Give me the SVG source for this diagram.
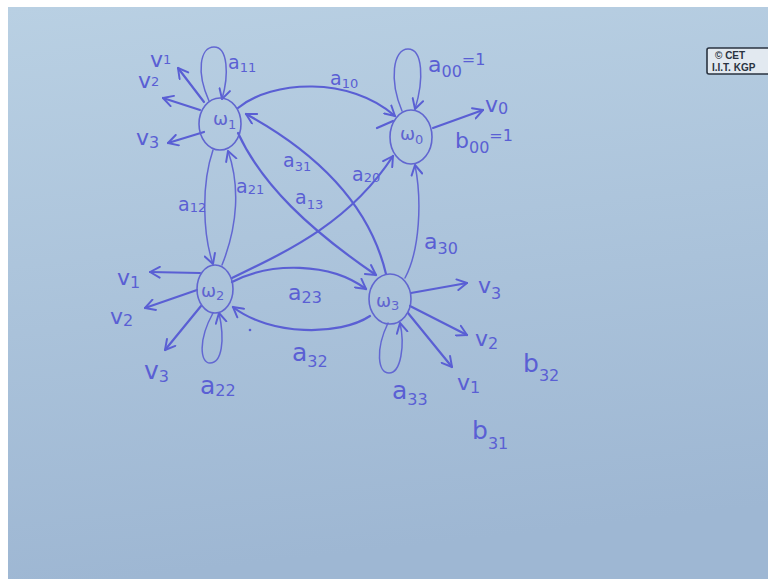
<svg xmlns="http://www.w3.org/2000/svg" width="768" height="579" viewBox="0 0 768 579">
<defs>
<linearGradient id="bg" x1="0" y1="0" x2="0.15" y2="1">
<stop offset="0" stop-color="#b9d0e3"/>
<stop offset="1" stop-color="#9eb7d3"/>
</linearGradient>
<marker id="ah" viewBox="0 0 12 12" refX="10" refY="6" markerWidth="13" markerHeight="13" markerUnits="userSpaceOnUse" orient="auto">
<path d="M1,1 L10,6 L1,11" fill="none" stroke="#5a5fd4" stroke-width="1.8" stroke-linecap="round" stroke-linejoin="round"/>
</marker>
<style>
.ln{fill:none;stroke:#5a5fd4;stroke-width:2.2;stroke-linecap:round}
.th{fill:none;stroke:#6267d2;stroke-width:1.5;stroke-linecap:round}
.nd{fill:none;stroke:#6166d0;stroke-width:1.6}
.t{font-family:"DejaVu Sans",sans-serif;font-size:22px;fill:#5a5fd4}
.m{font-size:19px}
.l{font-size:25px}
.s{font-size:16px}
.ss{font-size:13px}
.nt{font-family:"DejaVu Sans",sans-serif;font-size:18px;fill:#5f64d0}
.logo{font-family:"Liberation Sans",Arial,sans-serif;font-weight:bold;font-size:10px;fill:#2a3340}
</style>
</defs>
<rect x="0" y="0" width="768" height="579" fill="#ffffff"/>
<rect x="8" y="7" width="760" height="572" fill="url(#bg)"/>

<g id="logo">
<rect x="707" y="48" width="68" height="26" rx="2" fill="#e2e9f0" stroke="#2a3340" stroke-width="1.6"/>
<text class="logo" x="715" y="59">© CET</text>
<text class="logo" x="712" y="71">I.I.T. KGP</text>
</g>

<g id="connectors">
<path id="e-a11" class="th" d="M209,101 C196,72 200,47 214,47 C228,47 229,75 222,99" marker-end="url(#ah)"/>
<path id="e-a10" class="ln" d="M238,108 C272,80 350,76 395,116" marker-end="url(#ah)"/>
<path id="e-a10b" class="ln" d="M377,128 L393,121"/>
<path id="e-a00" class="th" d="M402,111 C389,80 393,49 408,49 C423,49 424,80 415,109" marker-end="url(#ah)"/>
<path id="e-v0" class="ln" d="M433,128 L483,110" marker-end="url(#ah)"/>
<path id="e-w1v1" class="ln" d="M204,102 L178,68" marker-end="url(#ah)"/>
<path id="e-w1v2" class="ln" d="M200,110 L163,98" marker-end="url(#ah)"/>
<path id="e-w1v3" class="ln" d="M204,132 L168,143" marker-end="url(#ah)"/>
<path id="e-a12" class="th" d="M213,150 C201,185 203,235 213,264" marker-end="url(#ah)"/>
<path id="e-a21" class="th" d="M222,265 C238,225 240,185 228,151" marker-end="url(#ah)"/>
<path id="e-a31" class="ln" d="M386,274 C372,215 330,160 246,114" marker-end="url(#ah)"/>
<path id="e-a13" class="ln" d="M238,133 C262,185 310,230 376,275" marker-end="url(#ah)"/>
<path id="e-a20" class="ln" d="M232,278 C290,250 350,222 393,156" marker-end="url(#ah)"/>
<path id="e-a30" class="th" d="M405,278 C420,250 422,200 415,165" marker-end="url(#ah)"/>
<path id="e-a23" class="ln" d="M232,282 C270,262 330,262 366,289" marker-end="url(#ah)"/>
<path id="e-a32" class="ln" d="M370,316 C340,336 270,336 233,307" marker-end="url(#ah)"/>
<path id="e-w2v1" class="ln" d="M200,273 L150,272" marker-end="url(#ah)"/>
<path id="e-w2v2" class="ln" d="M197,290 L145,308" marker-end="url(#ah)"/>
<path id="e-w2v3" class="ln" d="M201,306 L165,350" marker-end="url(#ah)"/>
<path id="e-a22" class="th" d="M213,313 C198,340 200,363 210,363 C222,363 225,340 219,313" marker-end="url(#ah)"/>
<path id="e-w3v3" class="ln" d="M411,293 L467,283" marker-end="url(#ah)"/>
<path id="e-w3v2" class="ln" d="M410,306 L467,335" marker-end="url(#ah)"/>
<path id="e-w3v1" class="ln" d="M408,313 L452,367" marker-end="url(#ah)"/>
<path id="e-a33" class="th" d="M388,323 C375,350 378,373 389,373 C401,373 405,345 400,323" marker-end="url(#ah)"/>
<circle cx="250" cy="330" r="1.3" fill="#5a5fd4"/>
</g>

<g id="node-w1">
<ellipse class="nd" cx="220" cy="124" rx="21" ry="26"/>
<text class="nt" x="213" y="125">ω<tspan class="ss" dy="4">1</tspan></text>
</g>
<g id="node-w0">
<ellipse class="nd" cx="411" cy="137" rx="21" ry="27"/>
<text class="nt" x="400" y="140">ω<tspan class="ss" dy="4">0</tspan></text>
</g>
<g id="node-w2">
<ellipse class="nd" cx="215" cy="289" rx="18" ry="24"/>
<text class="nt" x="201" y="297">ω<tspan class="ss" dy="3">2</tspan></text>
</g>
<g id="node-w3">
<ellipse class="nd" cx="390" cy="299" rx="21" ry="25"/>
<text class="nt" x="376" y="307">ω<tspan class="ss" dy="3">3</tspan></text>
</g>

<g id="labels">
<text class="t m" x="228" y="69">a<tspan class="ss" dy="3">11</tspan></text>
<text class="t m" x="330" y="85">a<tspan class="ss" dy="3">10</tspan></text>
<text class="t" x="428" y="72">a<tspan class="s" dy="5">00</tspan><tspan class="s" dy="-12">=1</tspan></text>
<text class="t" x="485" y="112">v<tspan class="s" dy="2">0</tspan></text>
<text class="t" x="455" y="148">b<tspan class="s" dy="5">00</tspan><tspan class="s" dy="-12">=1</tspan></text>
<text class="t" x="150" y="67">v<tspan class="ss" dy="-3">1</tspan></text>
<text class="t" x="138" y="88">v<tspan class="ss" dy="-2">2</tspan></text>
<text class="t" x="136" y="145">v<tspan class="s" dy="3">3</tspan></text>
<text class="t m" x="178" y="211">a<tspan class="ss" dy="1">12</tspan></text>
<text class="t m" x="236" y="193">a<tspan class="ss" dy="1">21</tspan></text>
<text class="t m" x="283" y="167">a<tspan class="ss" dy="4">31</tspan></text>
<text class="t m" x="295" y="204">a<tspan class="ss" dy="5">13</tspan></text>
<text class="t m" x="352" y="181">a<tspan class="ss" dy="1">20</tspan></text>
<text class="t" x="424" y="249">a<tspan class="s" dy="5">30</tspan></text>
<text class="t" x="288" y="300">a<tspan class="s" dy="3">23</tspan></text>
<text class="t l" x="292" y="361">a<tspan class="s" dy="6">32</tspan></text>
<text class="t" x="117" y="285">v<tspan class="s" dy="3">1</tspan></text>
<text class="t" x="110" y="324">v<tspan class="s" dy="2">2</tspan></text>
<text class="t l" x="144" y="379">v<tspan class="s" dy="3">3</tspan></text>
<text class="t l" x="200" y="394">a<tspan class="s" dy="2">22</tspan></text>
<text class="t" x="478" y="293">v<tspan class="s" dy="6">3</tspan></text>
<text class="t" x="475" y="346">v<tspan class="s" dy="3">2</tspan></text>
<text class="t" x="457" y="390">v<tspan class="s" dy="3">1</tspan></text>
<text class="t l" x="392" y="399">a<tspan class="s" dy="6">33</tspan></text>
<text class="t l" x="523" y="372">b<tspan class="s" dy="9">32</tspan></text>
<text class="t l" x="472" y="439">b<tspan class="s" dy="10">31</tspan></text>
</g>
</svg>
